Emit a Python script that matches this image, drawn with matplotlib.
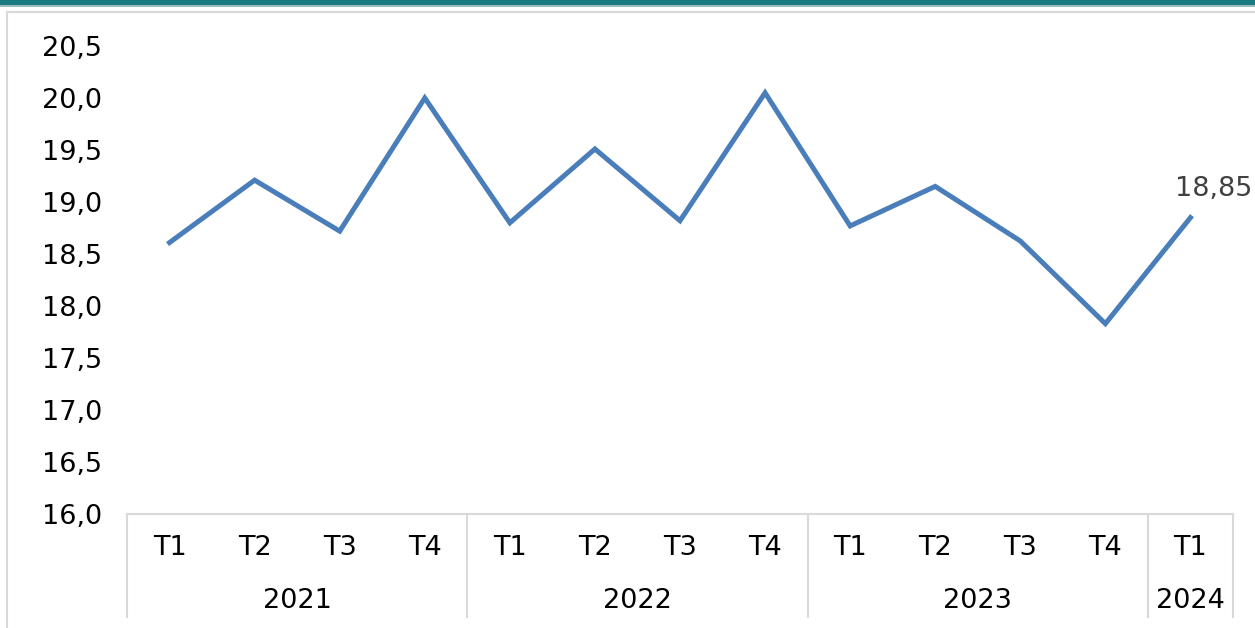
import matplotlib.pyplot as plt
from matplotlib.patches import Rectangle
from matplotlib.lines import Line2D
import matplotlib.transforms as mtransforms

# quarterly values
quarters = ["T1", "T2", "T3", "T4", "T1", "T2", "T3", "T4", "T1", "T2", "T3", "T4", "T1"]
years = ["2021", "2022", "2023", "2024"]
quarters_per_year = [4, 4, 4, 1]
values = [18.61, 19.21, 18.72, 20.00, 18.80, 19.51, 18.82, 20.05, 18.77, 19.15, 18.625, 17.83, 18.85]
yticks = [16.0, 16.5, 17.0, 17.5, 18.0, 18.5, 19.0, 19.5, 20.0, 20.5]

W, H = 1255, 628
fig = plt.figure(figsize=(W / 100, H / 100), dpi=100)

# teal band on top and light chart border
fig.patches.append(Rectangle((0, 1 - 5 / H), 1, 5 / H, transform=fig.transFigure,
                             facecolor="#1c7b80", edgecolor="none"))
fig.patches.append(Rectangle((0, 1 - 7 / H), 1, 2 / H, transform=fig.transFigure,
                             facecolor="#9fbcbf", edgecolor="none"))
fig.lines.append(Line2D([7 / W, 7 / W], [0, 1 - 12 / H], transform=fig.transFigure,
                        color="#d9d9d9", lw=1.5))
fig.lines.append(Line2D([7 / W, 1], [1 - 12 / H, 1 - 12 / H], transform=fig.transFigure,
                        color="#d9d9d9", lw=1.5))

ax = fig.add_axes([127 / W, 114 / H, (1233 - 127) / W, 468 / H])
x = list(range(len(values)))
ax.plot(x, values, color="#4a7ebb", lw=3.6, solid_joinstyle="miter", clip_on=False)

ax.set_xlim(-0.5, len(values) - 0.5)
ax.set_ylim(16, 20.5)
ax.set_yticks(yticks)
ax.set_yticklabels([f"{v:.1f}".replace(".", ",") for v in yticks], fontsize=19.5)
ax.tick_params(axis="y", length=0, pad=18)
ax.set_xticks([])
for s in ["top", "right", "left"]:
    ax.spines[s].set_visible(False)
ax.spines["bottom"].set_color("#d9d9d9")
ax.spines["bottom"].set_linewidth(1.5)

# last value label
ax.annotate(f"{values[-1]:.2f}".replace(".", ","), (x[-1], values[-1]),
            xytext=(23, 29), textcoords="offset pixels", ha="center", va="center",
            fontsize=19.5, color="#404040", annotation_clip=False)

# multi-level category axis
trans = mtransforms.blended_transform_factory(ax.transData, ax.transAxes)
for i, q in enumerate(quarters):
    ax.text(i, -0.0726, q, transform=trans, ha="center", va="center", fontsize=19.5)

start = 0
bounds = [-0.5]
for yr, n in zip(years, quarters_per_year):
    ax.text(start + (n - 1) / 2, -0.186, yr, transform=trans, ha="center", va="center",
            fontsize=19.5)
    start += n
    bounds.append(start - 0.5)
for b in bounds:
    ax.add_line(Line2D([b, b], [0, -0.22], transform=trans, color="#d9d9d9", lw=1.5,
                       clip_on=False))

fig.savefig("out.png", dpi=100)
